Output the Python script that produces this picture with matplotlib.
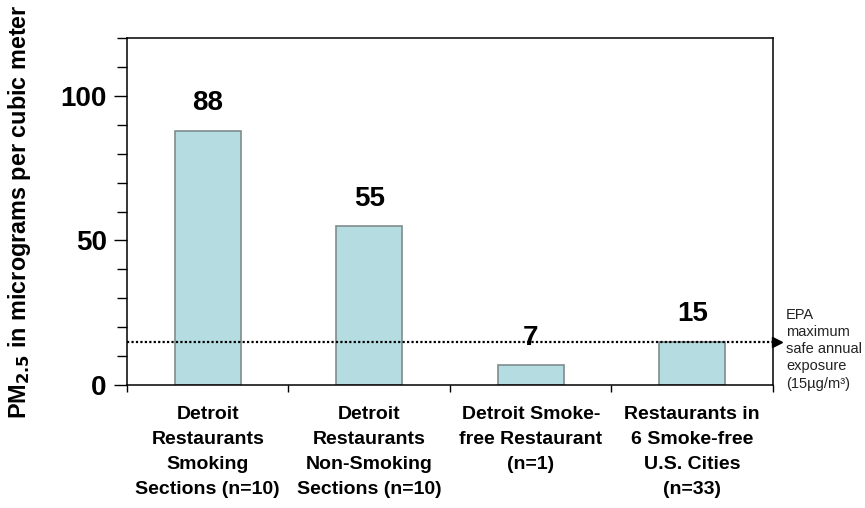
import matplotlib.pyplot as plt
import numpy as np

plt.rcParams['font.family'] = ['Liberation Sans', 'DejaVu Sans']

categories = ["Detroit\nRestaurants\nSmoking\nSections (n=10)",
              "Detroit\nRestaurants\nNon-Smoking\nSections (n=10)",
              "Detroit Smoke-\nfree Restaurant\n(n=1)",
              "Restaurants in\n6 Smoke-free\nU.S. Cities\n(n=33)"]
pm25 = [88, 55, 7, 15]
epa_limit = 15
epa_text = "EPA\nmaximum\nsafe annual\nexposure\n(15µg/m³)"

fig = plt.figure(figsize=(8.65, 5.08), dpi=100)
ax = fig.add_axes([0.1468, 0.2421, 0.7468, 0.6831])

x = np.arange(len(pm25))
ax.bar(x, pm25, width=0.41, color="#b5dde1", edgecolor="#7f8c8c", linewidth=1.2, zorder=2)
for xi, v in zip(x, pm25):
    ax.text(xi, v + 7, str(v), ha="center", va="baseline",
            fontsize=20, fontweight="bold", zorder=4)

# EPA annual standard line with arrow past the right edge
ax.axhline(epa_limit, color="black", linestyle=(0, (1, 1)), linewidth=1.6, zorder=3)
ax.plot([1.006], [epa_limit], marker=">", color="black", markersize=7,
        transform=ax.get_yaxis_transform(), clip_on=False)
ax.text(1.02, epa_limit + 11.8, epa_text, transform=ax.get_yaxis_transform(),
        ha="left", va="top", fontsize=10.5, color="#222222", linespacing=1.3)

ax.set_xlim(-0.5, 3.5)
ax.set_ylim(0, 120)
ax.set_yticks([0, 50, 100])
ax.set_yticks(np.arange(0, 121, 10), minor=True)
ax.tick_params(axis="y", which="major", length=9.5, width=1, labelsize=20, pad=5)
ax.tick_params(axis="y", which="minor", length=7, width=1)
for lab in ax.get_yticklabels():
    lab.set_fontweight("bold")

ax.set_xticks(np.arange(-0.5, 3.6, 1.0))
ax.set_xticklabels([])
ax.set_xticks(x, minor=True)
ax.set_xticklabels(categories, minor=True, fontsize=14, fontweight="bold", linespacing=1.62)
ax.tick_params(axis="x", which="major", direction="out", length=5, width=1)
ax.tick_params(axis="x", which="minor", length=0, pad=15)

for s in ax.spines.values():
    s.set_linewidth(1.1)

fig.text(20 / 865, 1 - 212 / 508, "PM$_{\\mathbf{2.5}}$ in micrograms per cubic meter",
         rotation=90, ha="center", va="center", fontsize=16.8, fontweight="bold")

fig.savefig("out.png", dpi=100)
